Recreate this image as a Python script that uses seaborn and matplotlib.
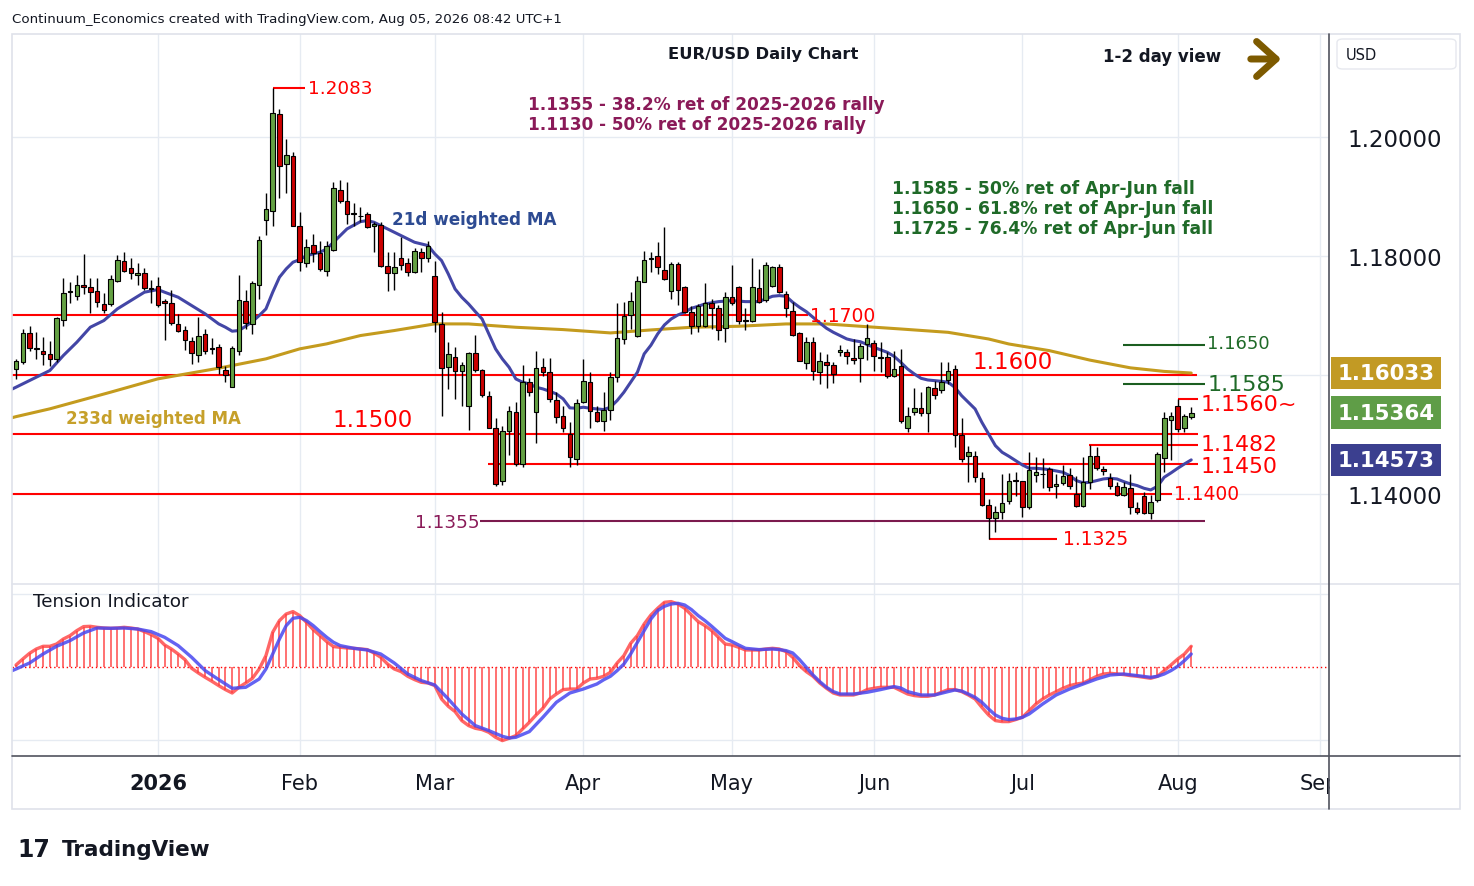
import numpy as np
import pandas as pd
import matplotlib
matplotlib.use("Agg")
import matplotlib.pyplot as plt
import matplotlib.transforms as mtransforms
from matplotlib.patches import Rectangle, FancyBboxPatch
from matplotlib.lines import Line2D
import seaborn as sns

sns.set_theme(style="white")
plt.rcParams["font.family"] = ["DejaVu Sans"]

# ---------------- DATA ----------------
opens = [1.16103, 1.16226, 1.16702, 1.16450, 1.16400, 1.16350, 1.16271, 1.16932, 1.17390, 1.17324,
         1.17509, 1.17475, 1.17408, 1.17190, 1.17190, 1.17576, 1.17912, 1.17794, 1.17677, 1.17710,
         1.17458, 1.17492, 1.17245, 1.17206, 1.16854, 1.16758, 1.16568, 1.16338, 1.16697, 1.16450,
         1.16467, 1.16086, 1.15795, 1.16411, 1.17245, 1.16859, 1.17520, 1.18606, 1.18752, 1.20387,
         1.19541, 1.19676, 1.18500, 1.17878, 1.18186, 1.18046, 1.17755, 1.18108, 1.19110, 1.18931,
         1.18724, 1.18679, 1.18701, 1.18500, 1.18528, 1.17839, 1.17716, 1.17962, 1.17878, 1.17727,
         1.18074, 1.17962, 1.17671, 1.16858, 1.16130, 1.16298, 1.16074, 1.15486, 1.16365, 1.16085,
         1.15654, 1.15116, 1.14226, 1.15055, 1.15374, 1.14506, 1.15878, 1.15374, 1.16130, 1.16057,
         1.15587, 1.15318, 1.15010, 1.14590, 1.15542, 1.15878, 1.15385, 1.15234, 1.15413, 1.15962,
         1.16606, 1.17015, 1.16650, 1.17570, 1.17955, 1.17995, 1.17770, 1.17407, 1.17860, 1.17474,
         1.17054, 1.16830, 1.16830, 1.17205, 1.17121, 1.16785, 1.17306, 1.17474, 1.16925, 1.16914,
         1.17457, 1.17267, 1.17502, 1.17810, 1.17362, 1.17082, 1.16701, 1.16197, 1.16550, 1.16046,
         1.16225, 1.16175, 1.16382, 1.16393, 1.16281, 1.16280, 1.16521, 1.16538, 1.16297, 1.16297,
         1.15989, 1.16146, 1.15104, 1.15373, 1.15440, 1.15356, 1.15776, 1.15748, 1.15922, 1.16101,
         1.14989, 1.14634, 1.14634, 1.14264, 1.13816, 1.13598, 1.13704, 1.13889, 1.14242, 1.14214,
         1.13777, 1.14325, 1.14333, 1.14421, 1.14129, 1.14180, 1.14325, 1.13999, 1.13793, 1.14208,
         1.14633, 1.14421, 1.14264, 1.14141, 1.13984, 1.14096, 1.13765, 1.13961, 1.13676, 1.13905,
         1.14600, 1.15250, 1.15474, 1.15110, 1.15289]
highs = [1.16271, 1.16775, 1.16820, 1.16719, 1.16635, 1.16568, 1.16971, 1.17626, 1.17559, 1.17682,
         1.18035, 1.17626, 1.17626, 1.17380, 1.17682, 1.18018, 1.18063, 1.17962, 1.17884, 1.17794,
         1.17598, 1.17643, 1.17279, 1.17430, 1.17021, 1.16820, 1.16635, 1.16982, 1.16775, 1.16618,
         1.16523, 1.16159, 1.16495, 1.17682, 1.17430, 1.17587, 1.18343, 1.19054, 1.20830, 1.20471,
         1.19967, 1.19754, 1.18746, 1.18287, 1.18365, 1.18248, 1.18248, 1.19250, 1.19278, 1.19250,
         1.18892, 1.18830, 1.18735, 1.18567, 1.18567, 1.18063, 1.18063, 1.18326, 1.17962, 1.18130,
         1.18130, 1.18260, 1.17923, 1.17054, 1.16550, 1.16466, 1.16214, 1.16382, 1.16674, 1.16102,
         1.15738, 1.15279, 1.15150, 1.15486, 1.15553, 1.16170, 1.15945, 1.16399, 1.16281, 1.16281,
         1.15721, 1.15475, 1.15206, 1.15598, 1.16270, 1.16046, 1.15486, 1.15710, 1.16046, 1.17210,
         1.17222, 1.17390, 1.17659, 1.18090, 1.18062, 1.18230, 1.18482, 1.17894, 1.17894, 1.17502,
         1.17155, 1.17194, 1.17547, 1.17278, 1.17177, 1.17401, 1.17849, 1.17491, 1.17121, 1.17961,
         1.17782, 1.17894, 1.17838, 1.17866, 1.17418, 1.17222, 1.16718, 1.16634, 1.16634, 1.16382,
         1.16354, 1.16214, 1.16505, 1.16438, 1.16606, 1.16538, 1.16857, 1.16594, 1.16549, 1.16381,
         1.16409, 1.16437, 1.15457, 1.15776, 1.15720, 1.15821, 1.15905, 1.16224, 1.16213, 1.16168,
         1.15272, 1.14813, 1.14729, 1.14376, 1.13917, 1.13805, 1.14337, 1.14354, 1.14365, 1.14225,
         1.14712, 1.14617, 1.14605, 1.14449, 1.14337, 1.14488, 1.14432, 1.14309, 1.14617, 1.14824,
         1.14785, 1.14477, 1.14354, 1.14208, 1.14197, 1.14337, 1.13861, 1.14029, 1.13984, 1.14712,
         1.15373, 1.15373, 1.15597, 1.15345, 1.15457]
lows = [1.15935, 1.16187, 1.16411, 1.16271, 1.16176, 1.16159, 1.16215, 1.16831, 1.17212, 1.17268,
        1.17363, 1.17038, 1.17139, 1.17038, 1.17167, 1.17565, 1.17727, 1.17615, 1.17514, 1.17436,
        1.17212, 1.17139, 1.16596, 1.16848, 1.16730, 1.16428, 1.16187, 1.16226, 1.16350, 1.16350,
        1.16019, 1.15880, 1.15795, 1.16338, 1.16775, 1.16691, 1.17279, 1.18360, 1.18511, 1.18970,
        1.19060, 1.18500, 1.17755, 1.17811, 1.17906, 1.17755, 1.17660, 1.18091, 1.18892, 1.18539,
        1.18511, 1.18567, 1.18466, 1.18063, 1.17811, 1.17419, 1.17436, 1.17772, 1.17671, 1.17716,
        1.17738, 1.17906, 1.16730, 1.15318, 1.15766, 1.15598, 1.15475, 1.15083, 1.16046, 1.15626,
        1.15105, 1.14131, 1.14153, 1.14657, 1.14478, 1.14450, 1.15654, 1.14853, 1.15990, 1.15553,
        1.15195, 1.15038, 1.14450, 1.14490, 1.15530, 1.15105, 1.15206, 1.15066, 1.15245, 1.15890,
        1.16522, 1.16774, 1.16634, 1.17558, 1.17726, 1.17698, 1.17603, 1.17278, 1.17177, 1.17043,
        1.16690, 1.16729, 1.16802, 1.16774, 1.16595, 1.16561, 1.17177, 1.16858, 1.16763, 1.16897,
        1.17210, 1.17222, 1.17474, 1.17379, 1.16970, 1.16662, 1.16242, 1.16102, 1.15923, 1.15850,
        1.15783, 1.15867, 1.16315, 1.16186, 1.16186, 1.15877, 1.16258, 1.16073, 1.16045, 1.15944,
        1.15961, 1.15194, 1.15037, 1.15328, 1.15317, 1.15037, 1.15597, 1.15698, 1.15849, 1.14785,
        1.14533, 1.14197, 1.14197, 1.13805, 1.13245, 1.13357, 1.13581, 1.13833, 1.13973, 1.13620,
        1.13749, 1.14197, 1.14096, 1.14057, 1.13928, 1.14152, 1.14085, 1.13777, 1.13777, 1.14085,
        1.14410, 1.14320, 1.14085, 1.13973, 1.13973, 1.13665, 1.13665, 1.13665, 1.13581, 1.13872,
        1.14365, 1.14578, 1.15048, 1.15037, 1.15261]
closes = [1.16243, 1.16702, 1.16450, 1.16433, 1.16361, 1.16271, 1.16954, 1.17374, 1.17408, 1.17520,
          1.17475, 1.17390, 1.17223, 1.17089, 1.17610, 1.17929, 1.17755, 1.17710, 1.17710, 1.17464,
          1.17447, 1.17184, 1.17206, 1.16876, 1.16747, 1.16585, 1.16366, 1.16663, 1.16411, 1.16439,
          1.16131, 1.16002, 1.16450, 1.17262, 1.16870, 1.17548, 1.18265, 1.18790, 1.20404, 1.19519,
          1.19698, 1.18500, 1.17895, 1.18158, 1.18052, 1.17777, 1.18164, 1.19138, 1.18931, 1.18701,
          1.18713, 1.18673, 1.18494, 1.18533, 1.17839, 1.17716, 1.17811, 1.17850, 1.17727, 1.18091,
          1.17962, 1.18164, 1.16887, 1.16119, 1.16354, 1.16074, 1.16169, 1.16365, 1.16085, 1.15665,
          1.15105, 1.14160, 1.15055, 1.15390, 1.14506, 1.15878, 1.15710, 1.16113, 1.16057, 1.15598,
          1.15290, 1.15105, 1.14618, 1.15525, 1.15895, 1.15390, 1.15234, 1.15419, 1.15962, 1.16623,
          1.16998, 1.17239, 1.17575, 1.17939, 1.17967, 1.17810, 1.17614, 1.17860, 1.17429, 1.17054,
          1.16819, 1.17166, 1.17205, 1.17121, 1.16757, 1.17306, 1.17205, 1.16903, 1.16914, 1.17474,
          1.17222, 1.17849, 1.17810, 1.17390, 1.17121, 1.16673, 1.16242, 1.16550, 1.16063, 1.16242,
          1.16169, 1.16018, 1.16427, 1.16315, 1.16247, 1.16482, 1.16616, 1.16314, 1.16291, 1.15978,
          1.16101, 1.15233, 1.15317, 1.15440, 1.15356, 1.15793, 1.15664, 1.15888, 1.16073, 1.14989,
          1.14589, 1.14701, 1.14281, 1.13816, 1.13592, 1.13693, 1.13850, 1.14225, 1.14214, 1.13777,
          1.14400, 1.14365, 1.14339, 1.14113, 1.14169, 1.14297, 1.14141, 1.13793, 1.14208, 1.14633,
          1.14432, 1.14387, 1.14129, 1.13984, 1.14113, 1.13777, 1.13704, 1.13681, 1.13861, 1.14673,
          1.15272, 1.15305, 1.15093, 1.15317, 1.15364]

# 21-day weighted MA (bar index, value)
wma21_idx = [-1, 0, 3, 5, 7, 9, 11, 13, 15, 17, 19, 21, 22, 24, 26, 28, 30, 31, 32, 33, 34, 35, 36, 37, 38,
             39, 40, 41, 42, 43, 45, 46, 47, 48, 49, 51, 52, 53, 55, 57, 59, 61, 62, 63, 64, 65, 66, 67, 68,
             69, 70, 71, 72, 73, 74, 75, 76, 77, 78, 79, 80, 81, 82, 83, 84, 85, 86, 87, 88, 89, 90, 91, 92,
             93, 94, 95, 96, 97, 98, 99, 100, 101, 102, 104, 106, 108, 110, 111, 112, 113, 114, 115, 116,
             117, 118, 119, 120, 121, 122, 123, 124, 125, 127, 129, 130, 131, 132, 133, 134, 135, 136, 137,
             138, 139, 140, 141, 142, 143, 144, 145, 146, 147, 148, 149, 150, 151, 153, 155, 156, 157, 158,
             159, 160, 161, 162, 163, 164, 165, 166, 167, 168, 169, 170, 171, 172, 173, 174]
wma21_val = [1.15740, 1.15795, 1.15963, 1.16075, 1.16327, 1.16551, 1.16803, 1.16915, 1.17111, 1.17251,
             1.17391, 1.17436, 1.17391, 1.17307, 1.17167, 1.17027, 1.16859, 1.16803, 1.16736, 1.16747,
             1.16820, 1.16898, 1.16999, 1.17111, 1.17391, 1.17643, 1.17783, 1.17895, 1.17940, 1.18007,
             1.18063, 1.18119, 1.18231, 1.18343, 1.18455, 1.18578, 1.18595, 1.18567, 1.18455, 1.18343,
             1.18231, 1.18175, 1.18035, 1.17923, 1.17698, 1.17446, 1.17306, 1.17194, 1.17065, 1.16942,
             1.16690, 1.16438, 1.16270, 1.16130, 1.15934, 1.15878, 1.15850, 1.15794, 1.15766, 1.15727,
             1.15682, 1.15598, 1.15447, 1.15441, 1.15458, 1.15441, 1.15430, 1.15419, 1.15458, 1.15570,
             1.15710, 1.15878, 1.16046, 1.16354, 1.16500, 1.16690, 1.16841, 1.16942, 1.17009, 1.17054,
             1.17121, 1.17155, 1.17194, 1.17233, 1.17250, 1.17233, 1.17233, 1.17278, 1.17323, 1.17334,
             1.17323, 1.17222, 1.17138, 1.17065, 1.16970, 1.16875, 1.16785, 1.16718, 1.16662, 1.16606,
             1.16578, 1.16560, 1.16465, 1.16381, 1.16314, 1.16213, 1.16101, 1.16017, 1.15944, 1.15916,
             1.15905, 1.15894, 1.15877, 1.15793, 1.15653, 1.15541, 1.15429, 1.15205, 1.15009, 1.14813,
             1.14701, 1.14634, 1.14561, 1.14488, 1.14432, 1.14432, 1.14410, 1.14365, 1.14309, 1.14225,
             1.14186, 1.14197, 1.14225, 1.14253, 1.14264, 1.14253, 1.14208, 1.14169, 1.14141, 1.14096,
             1.14068, 1.14129, 1.14281, 1.14354, 1.14432, 1.14505, 1.14573]

# 233-day weighted MA (bar index, value)
wma233_idx = [-1, 0, 5, 14, 21, 30, 37, 42, 46, 51, 56, 62, 67, 74, 81, 88, 94, 100, 107, 114, 120, 125,
              131, 138, 144, 147, 153, 159, 165, 170, 174]
wma233_val = [1.15270, 1.15300, 1.15431, 1.15711, 1.15935, 1.16114, 1.16271, 1.16439, 1.16523, 1.16663,
              1.16747, 1.16859, 1.16858, 1.16802, 1.16763, 1.16707, 1.16757, 1.16802, 1.16819, 1.16858,
              1.16858, 1.16819, 1.16773, 1.16717, 1.16605, 1.16521, 1.16409, 1.16250, 1.16120, 1.16060,
              1.16033]

# Tension indicator (one value per bar) and its signal line (bar index, value)
tension = [0.23, 0.83, 1.4, 1.83, 2.1, 2.1, 2.33, 2.83, 3.17, 3.67,
           4.07, 4.1, 4.0, 3.93, 3.9, 3.93, 4.0, 3.93, 3.83, 3.57,
           3.27, 2.9, 2.23, 1.83, 1.33, 0.77, -0.1, -0.57, -1.0, -1.4,
           -1.83, -2.23, -2.57, -2.0, -1.57, -1.1, -0.17, 1.17, 3.5, 4.67,
           5.33, 5.57, 5.17, 4.5, 3.77, 3.17, 2.57, 2.07, 2.0, 1.93,
           1.9, 1.83, 1.77, 1.43, 1.0, 0.33, -0.17, -0.43, -0.9, -1.23,
           -1.5, -1.57, -1.83, -3.17, -3.9, -4.43, -5.33, -5.83, -6.1, -6.23,
           -6.5, -7.0, -7.33, -7.1, -6.83, -6.17, -5.5, -4.77, -4.1, -3.17,
           -2.67, -2.23, -2.17, -2.17, -1.57, -1.17, -1.1, -0.9, -0.5, 0.43,
           1.17, 2.4, 3.17, 4.33, 5.23, 5.9, 6.5, 6.57, 6.33, 5.9,
           5.23, 4.57, 4.17, 3.67, 3.0, 2.33, 2.23, 2.0, 1.73, 1.73,
           1.73, 1.83, 1.9, 1.83, 1.57, 1.0, 0.17, -0.43, -0.9, -1.57,
           -2.1, -2.57, -2.77, -2.77, -2.77, -2.57, -2.23, -2.1, -2.0, -2.0,
           -2.0, -2.33, -2.67, -2.83, -2.9, -2.9, -2.77, -2.5, -2.23, -2.23,
           -2.43, -2.77, -3.17, -4.0, -4.77, -5.33, -5.43, -5.43, -5.23, -5.0,
           -4.33, -3.67, -3.17, -2.77, -2.43, -2.1, -1.83, -1.67, -1.57, -1.23,
           -0.9, -0.67, -0.6, -0.67, -0.73, -0.83, -0.9, -1.0, -1.1, -0.9,
           -0.33, 0.23, 0.83, 1.33, 2.1]
signal_idx = [-1, 0, 2, 4, 6, 8, 10, 12, 14, 16, 18, 20, 22, 24, 26, 28, 30, 32, 34, 36, 37, 38, 39, 40, 41,
              42, 43, 44, 45, 46, 47, 48, 50, 52, 54, 56, 58, 60, 62, 64, 66, 68, 70, 72, 73, 74, 76, 78, 80,
              82, 84, 86, 87, 88, 89, 90, 91, 92, 93, 94, 95, 96, 97, 98, 99, 100, 101, 102, 103, 104, 105,
              106, 107, 108, 110, 112, 113, 114, 115, 116, 117, 118, 119, 120, 121, 122, 124, 126, 128, 130,
              131, 132, 134, 136, 138, 139, 140, 141, 142, 143, 144, 145, 146, 147, 148, 149, 150, 151, 152,
              154, 156, 158, 160, 162, 164, 166, 168, 169, 170, 171, 172, 173, 174]
signal_val = [-0.45, -0.17, 0.43, 1.33, 2.1, 2.67, 3.43, 3.93, 3.9, 3.93, 3.83, 3.57, 3.0, 2.17, 1.0, -0.33,
              -1.23, -2.1, -2.0, -1.17, -0.17, 1.33, 2.83, 4.17, 4.9, 5.0, 4.67, 4.17, 3.57, 3.0, 2.5, 2.17,
              1.9, 1.73, 1.33, 0.43, -0.67, -1.33, -1.77, -3.17, -4.67, -5.83, -6.33, -6.9, -7.07, -7.0,
              -6.43, -5.0, -3.5, -2.57, -2.17, -1.67, -1.25, -0.9, -0.33, 0.33, 1.33, 2.5, 3.67, 4.83, 5.67,
              6.1, 6.33, 6.4, 6.23, 5.77, 5.17, 4.67, 4.1, 3.5, 2.9, 2.57, 2.23, 1.9, 1.77, 1.83, 1.77, 1.67,
              1.43, 0.77, 0.0, -0.77, -1.43, -2.0, -2.43, -2.67, -2.67, -2.5, -2.23, -1.93, -2.07, -2.43,
              -2.77, -2.77, -2.43, -2.27, -2.37, -2.67, -3.0, -3.5, -4.17, -4.77, -5.1, -5.23, -5.17, -5.0,
              -4.67, -4.17, -3.67, -2.77, -2.17, -1.67, -1.17, -0.77, -0.67, -0.83, -1.0, -0.9, -0.67, -0.33,
              0.1, 0.67, 1.33]

month_ticks = [21, 42, 62, 84, 106, 127, 149, 172, 193]
month_labels = ["2026", "Feb", "Mar", "Apr", "May", "Jun", "Jul", "Aug", "Sep"]
price_ticks = [1.14, 1.16, 1.18, 1.20]
price_labels = ["1.14000", "", "1.18000", "1.20000"]  # 1.16000 sits under the MA badge

assert len(opens) == len(highs) == len(lows) == len(closes) == len(tension) == 175
assert len(wma21_idx) == len(wma21_val)
assert len(wma233_idx) == len(wma233_val)
assert len(signal_idx) == len(signal_val)

# ---------------- STYLE ----------------
GREEN = "#64a143"
RED = "#cc0000"
BLUE_MA = "#4346a6"
GOLD = "#c49b1e"
DKGREEN = "#1f6a28"
MAROON = "#8a1a58"
TXT = "#131722"
GRID = "#e6ebf2"

W, H = 1474, 887
fig = plt.figure(figsize=(W / 100, H / 100), dpi=100)
fig.patch.set_facecolor("white")


def fx(px):
    return px / W


def fy(py):
    return 1 - py / H


ax1 = fig.add_axes([fx(12), fy(585), fx(1329) - fx(12), fy(35) - fy(585)])
ax2 = fig.add_axes([fx(12), fy(757), fx(1329) - fx(12), fy(585) - fy(757)], sharex=ax1)

df = pd.DataFrame({"o": opens, "h": highs, "l": lows, "c": closes})
df["x"] = np.arange(len(df))
up = df["c"] >= df["o"]

# ---- price panel ----
ax1.vlines(df["x"], df["l"], df["h"], color="black", lw=1.0, zorder=4)
ax1.bar(df["x"], df["c"] - df["o"], bottom=df["o"], width=0.68,
        color=np.where(up, GREEN, RED), edgecolor="black", linewidth=0.8, zorder=5)

sns.lineplot(x=wma233_idx, y=wma233_val, ax=ax1, color=GOLD, lw=2.2, estimator=None,
             sort=False, legend=False, zorder=3)
sns.lineplot(x=wma21_idx, y=wma21_val, ax=ax1, color=BLUE_MA, lw=2.2, estimator=None,
             sort=False, legend=False, zorder=3)

# horizontal levels
lv = 1.5
ax1.hlines(1.1700, -1, 117.3, color="#ff0000", lw=lv, zorder=2)
ax1.hlines(1.1600, -1, 174.8, color="#ff0000", lw=lv, zorder=2)
ax1.hlines(1.1500, -1, 175.0, color="#ff0000", lw=lv, zorder=2)
ax1.hlines(1.1482, 158.8, 175.0, color="#ff0000", lw=lv, zorder=2)
ax1.hlines(1.1450, 69.9, 175.0, color="#ff0000", lw=lv, zorder=2)
ax1.hlines(1.1400, -1, 171.1, color="#ff0000", lw=lv, zorder=2)
ax1.hlines(1.1355, 68.7, 176.1, color="#7b1a4e", lw=lv, zorder=2)
ax1.hlines(1.1325, 144.0, 154.2, color="#ff0000", lw=lv, zorder=2)
ax1.hlines(1.2083, 38.1, 42.8, color="#ff0000", lw=lv, zorder=2)
ax1.hlines(1.1650, 163.9, 176.1, color="#1b5e20", lw=lv, zorder=2)
ax1.hlines(1.1585, 163.9, 176.1, color="#1b5e20", lw=lv, zorder=2)
ax1.hlines(1.1560, 172.0, 175.0, color="#ff0000", lw=lv, zorder=2)

ax1.text(43.3, 1.2083, "1.2083", color="#ff0000", fontsize=13.2, va="center", ha="left")
ax1.text(117.6, 1.1700, "1.1700", color="#ff0000", fontsize=13.5, va="center", ha="left")
ax1.text(141.6, 1.1622, "1.1600", color="#ff0000", fontsize=16.5, va="center", ha="left")
ax1.text(46.8, 1.15244, "1.1500", color="#ff0000", fontsize=16.5, va="center", ha="left")
ax1.text(175.4, 1.14835, "1.1482", color="#ff0000", fontsize=15.8, va="center", ha="left")
ax1.text(175.4, 1.14475, "1.1450", color="#ff0000", fontsize=15.8, va="center", ha="left")
ax1.text(171.4, 1.1400, "1.1400", color="#ff0000", fontsize=13.4, va="center", ha="left")
ax1.text(68.7, 1.1353, "1.1355", color=MAROON, fontsize=13.2, va="center", ha="right")
ax1.text(155.0, 1.13244, "1.1325", color="#ff0000", fontsize=13.4, va="center", ha="left")
ax1.text(176.4, 1.16538, "1.1650", color=DKGREEN, fontsize=13.0, va="center", ha="left")
ax1.text(176.4, 1.15849, "1.1585", color=DKGREEN, fontsize=16.0, va="center", ha="left")
ax1.text(175.4, 1.15513, "1.1560~", color="#ff0000", fontsize=16.0, va="center", ha="left")

ax1.set_xlim(-0.6, 194.4)
ax1.set_ylim(1.12487, 1.21731)
ax1.set_yticks(price_ticks)
ax1.set_yticklabels(price_labels)
ax1.yaxis.tick_right()
ax1.tick_params(axis="y", length=0, pad=13.5, labelsize=16.5, labelcolor=TXT)
ax1.tick_params(axis="x", length=0, labelbottom=False)
ax1.set_xticks(month_ticks)
ax1.grid(True, color=GRID, lw=1)
for s in ax1.spines.values():
    s.set_visible(False)
ax1.set_xlabel("")
ax1.set_ylabel("")

# badges on the price scale
blend = mtransforms.blended_transform_factory(ax1.transAxes, ax1.transData)
for val, col in [(1.16033, "#c29a24"), (1.15364, "#5f9d47"), (1.14573, "#3b3f8f")]:
    ax1.text(1.0062, val, f"{val:.5f}", transform=blend, ha="left", va="center", color="white",
             fontsize=15.3, fontweight="bold", clip_on=False, zorder=10,
             bbox=dict(boxstyle="square,pad=0.3", fc=col, ec="none"))

# ---- indicator panel ----
xs = np.arange(len(tension))
ax2.vlines(xs, 0, tension, color="#ff3b3b", lw=1.2, alpha=0.85, zorder=2)
sns.lineplot(x=xs, y=tension, ax=ax2, color="#ff4040", lw=2.4, alpha=0.8, estimator=None,
             sort=False, legend=False, zorder=3)
sns.lineplot(x=signal_idx, y=signal_val, ax=ax2, color="#4848f0", lw=2.4, alpha=0.85, estimator=None,
             sort=False, legend=False, zorder=4)
ax2.axhline(0, color="#ff0000", lw=1.0, ls=(0, (1, 2)), zorder=1)
ax2.set_ylim(-8.87, 8.33)
ax2.set_yticks([-7.24, 7.33])
ax2.tick_params(axis="y", length=0, labelright=False, labelleft=False)
ax2.set_xticks(month_ticks)
ax2.set_xticklabels(month_labels)
ax2.tick_params(axis="x", length=0, pad=12, labelsize=15, labelcolor=TXT)
ax2.get_xticklabels()[0].set_fontweight("bold")
ax2.grid(True, color=GRID, lw=1)
for s in ax2.spines.values():
    s.set_visible(False)
ax2.set_xlabel("")
ax2.set_ylabel("")

# ---- frame lines ----
fig.add_artist(Rectangle((fx(12), fy(810)), fx(1460) - fx(12), fy(35) - fy(810),
                         transform=fig.transFigure, fill=False, ec="#dfe2ea", lw=1.2, zorder=20))
fig.add_artist(Rectangle((fx(1330), fy(810)), fx(1459) - fx(1330), fy(758) - fy(810),
                         transform=fig.transFigure, fc="white", ec="none", zorder=19))
fig.add_artist(Line2D([fx(12), fx(1460)], [fy(585), fy(585)], transform=fig.transFigure,
                      color="#e0e3eb", lw=1.2, zorder=21))
fig.add_artist(Line2D([fx(12), fx(1460)], [fy(757), fy(757)], transform=fig.transFigure,
                      color="#50535e", lw=1.2, zorder=21))
fig.add_artist(Line2D([fx(1329), fx(1329)], [fy(35), fy(810)], transform=fig.transFigure,
                      color="#50535e", lw=1.2, zorder=21))

# ---- texts ----
fig.text(fx(12), fy(19), "Continuum_Economics created with TradingView.com, Aug 05, 2026 08:42 UTC+1",
         fontsize=9.6, color=TXT, va="center", ha="left")
fig.text(fx(763), fy(55), "EUR/USD Daily Chart", fontsize=11.8, fontweight="bold", color=TXT,
         ha="center", va="center")
fig.text(fx(1103), fy(57), "1-2 day view", fontsize=12, fontweight="bold", color=TXT,
         ha="left", va="center")
fig.add_artist(matplotlib.patches.FancyArrowPatch((fx(1248), fy(60)), (fx(1284), fy(60)),
                                                  transform=fig.transFigure,
                                                  arrowstyle="->,head_length=0.5,head_width=0.45",
                                                  mutation_scale=28, lw=5, color="#7d5a00",
                                                  capstyle="round", joinstyle="round", zorder=22))
fig.text(fx(528), fy(105), "1.1355 - 38.2% ret of 2025-2026 rally", fontsize=12.2, fontweight="bold",
         color=MAROON, ha="left", va="center")
fig.text(fx(528), fy(125), "1.1130 - 50% ret of 2025-2026 rally", fontsize=12.2, fontweight="bold",
         color=MAROON, ha="left", va="center")
for k, t in enumerate(["1.1585 - 50% ret of Apr-Jun fall", "1.1650 - 61.8% ret of Apr-Jun fall",
                       "1.1725 - 76.4% ret of Apr-Jun fall"]):
    fig.text(fx(892), fy(189 + 20 * k), t, fontsize=12.4, fontweight="bold", color=DKGREEN,
             ha="left", va="center")
fig.text(fx(392), fy(220), "21d weighted MA", fontsize=12.1, fontweight="bold", color="#2d4b92",
         ha="left", va="center")
fig.text(fx(66), fy(419), "233d weighted MA", fontsize=12.0, fontweight="bold", color="#c6a02a",
         ha="left", va="center")
fig.text(fx(33), fy(602), "Tension Indicator", fontsize=13.2, color=TXT, ha="left", va="center")

# USD box
fig.add_artist(FancyBboxPatch((fx(1337), fy(70)), fx(1456) - fx(1337), fy(40) - fy(70),
                              boxstyle="round,pad=0,rounding_size=0.004", transform=fig.transFigure,
                              fc="white", ec="#e6e8ee", lw=1, zorder=22))
fig.text(fx(1346), fy(55), "USD", fontsize=10.5, color=TXT, ha="left", va="center", zorder=23)

# TradingView logo text
fig.text(fx(17), fy(850), "17", fontsize=17, fontweight="bold", color=TXT, ha="left", va="center")
fig.text(fx(62), fy(850), "TradingView", fontsize=15.5, fontweight="bold", color=TXT, ha="left",
         va="center")

fig.savefig("out.png", dpi=100, facecolor="white")
